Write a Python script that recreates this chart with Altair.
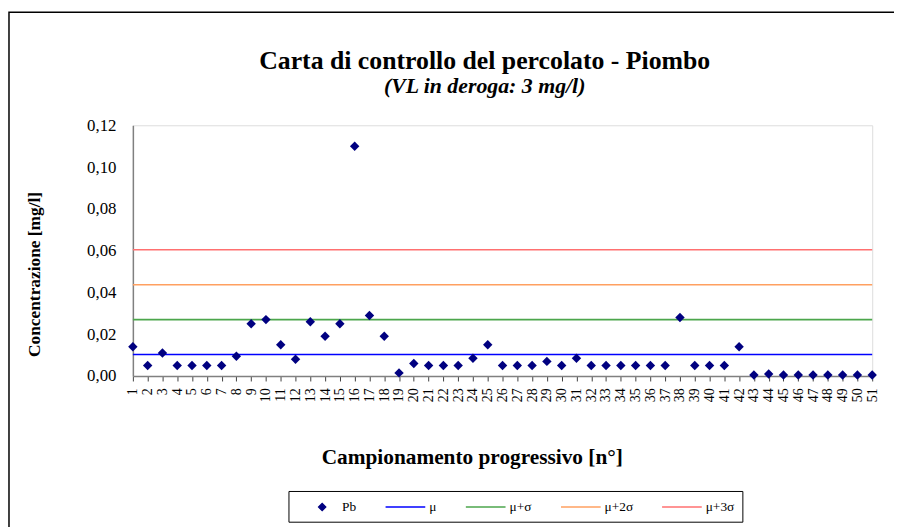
import altair as alt
import pandas as pd

# ---- data ----
campioni = list(range(1, 52))
pb = [0.014, 0.005, 0.011, 0.005, 0.005, 0.005, 0.005, 0.0095, 0.025, 0.027,
      0.015, 0.008, 0.026, 0.019, 0.025, 0.110, 0.029, 0.019, 0.0015, 0.006,
      0.005, 0.005, 0.005, 0.0085, 0.015, 0.005, 0.005, 0.005, 0.007, 0.005,
      0.0085, 0.005, 0.005, 0.005, 0.005, 0.005, 0.005, 0.028, 0.005, 0.005,
      0.005, 0.014, 0.0005, 0.001, 0.0005, 0.0005, 0.0005, 0.0005, 0.0005, 0.0005,
      0.0005]
limiti_nomi = ["μ", "μ+σ", "μ+2σ", "μ+3σ"]
limiti_valori = [0.0103, 0.0270, 0.0437, 0.0604]
serie = ["Pb"] + limiti_nomi
colori = ["#000080", "#0000FF", "#4CA64C", "#FFA060", "#FF7070"]
y_ticks = [0.0, 0.02, 0.04, 0.06, 0.08, 0.10, 0.12]

diamond = "M0,-0.5L0.5,0L0,0.5L-0.5,0Z"
linea = "M-3.43,0L2.29,0"
forme = [diamond, linea, linea, linea, linea]

df_pb = pd.DataFrame({"n": campioni, "val": pb, "serie": "Pb"})
df_lim = pd.DataFrame({"serie": limiti_nomi, "val": limiti_valori})

FONT = "Liberation Serif"

legend = alt.Legend(
    title=None, orient="none", legendX=157, legendY=369, direction="horizontal",
    strokeColor="black", padding=8, labelFont=FONT, labelFontSize=13.5,
    labelColor="black", symbolSize=196, symbolStrokeWidth=1.5,
    symbolOffset=18, labelOffset=12, columnPadding=25,
)

fill_scale = alt.Scale(domain=serie, range=colori)
shape_scale = alt.Scale(domain=serie, range=forme)

frame = alt.Chart(alt.Data(values=[{}])).mark_rect(
    fill=None, stroke="black", strokeWidth=1.5
).encode(
    x=alt.value(-125), x2=alt.value(1000), y=alt.value(-114), y2=alt.value(600)
)

rules = alt.Chart(df_lim).mark_rule(strokeWidth=1.6).encode(
    y=alt.Y("val:Q"),
    stroke=alt.Stroke("serie:N", scale=fill_scale, legend=legend),
)

points = alt.Chart(df_pb).mark_point(filled=True, size=361, opacity=1).encode(
    x=alt.X("n:O", scale=alt.Scale(type="point", padding=0),
            axis=alt.Axis(
                title="Campionamento progressivo [n°]",
                labelAngle=270, labelFont=FONT, labelFontSize=14, labelColor="black",
                labelPadding=7, tickSize=5, tickColor="#404040",
                domainColor="#808080", domainWidth=1.5,
                titleFont=FONT, titleFontSize=21.5, titleFontWeight="bold", titleColor="black",
                titleX=342, titleY=88, titleBaseline="alphabetic", titleAlign="center",
                grid=False)),
    y=alt.Y("val:Q", scale=alt.Scale(domain=[0, 0.12], nice=False, zero=True),
            axis=alt.Axis(
                title="Concentrazione [mg/l]", values=y_ticks,
                labelExpr="replace(format(datum.value, '.2f'), '.', ',')",
                labelFont=FONT, labelFontSize=17, labelColor="black",
                ticks=True, tickSize=0, labelPadding=17,
                domainColor="#808080", domainWidth=1.5, grid=False,
                titleFont=FONT, titleFontSize=17.5, titleFontWeight="bold", titleColor="black",
                titleAngle=270, titleX=-99, titleY=150, titleAlign="center",
                titleBaseline="middle")),
    fill=alt.Fill("serie:N", scale=fill_scale, legend=legend),
    shape=alt.Shape("serie:N", scale=shape_scale, legend=legend),
)

chart = alt.layer(frame, rules, points).properties(
    width=746, height=253,
    padding={"left": 126, "top": 116, "right": 22, "bottom": 150},
    autosize=alt.AutoSizeParams(type="none"),
    title=alt.TitleParams(
        text="Carta di controllo del percolato - Piombo",
        subtitle="(VL in deroga: 3 mg/l)",
        font=FONT, fontSize=26, fontWeight="bold", color="black",
        subtitleFont=FONT, subtitleFontSize=22, subtitleFontWeight="bold",
        subtitleFontStyle="italic", subtitleColor="black", subtitlePadding=2,
        anchor="middle", frame="group", offset=-86, dx=-18,
    ),
).configure_view(stroke="#808080", strokeWidth=1.5).configure(background="white")

chart.save("out.html", embed_options={"renderer": "svg", "actions": False})
